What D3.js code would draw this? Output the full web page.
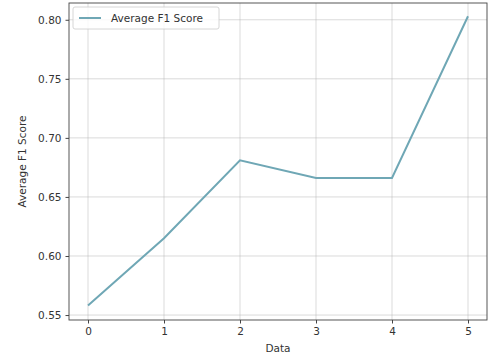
<!DOCTYPE html>
<html><head><meta charset="utf-8">
<script src="https://cdn.jsdelivr.net/npm/d3@7"></script>
<style>body{margin:0;background:#fff}text{font-family:"DejaVu Sans",sans-serif}</style>
</head><body><svg id="c" width="488" height="362"></svg>
<script>
const xValues=[0,1,2,3,4,5];
const f1Scores=[0.558,0.615,0.681,0.666,0.666,0.803];
const yTicks=[0.55,0.60,0.65,0.70,0.75,0.80];
const seriesName="Average F1 Score";
const W=488,H=362;
const m={l:69,r:1,t:3,b:42};
const svg=d3.select("#c");
const x=d3.scaleLinear().domain([-0.25,5.25]).range([m.l,W-m.r]);
const y=d3.scaleLinear().domain([0.5458,0.8142]).range([H-m.b,m.t]);
const g=svg.append("g");
// grid
g.append("g").selectAll("line").data(xValues).join("line")
 .attr("x1",d=>x(d)).attr("x2",d=>x(d)).attr("y1",m.t).attr("y2",H-m.b)
 .attr("stroke","#b0b0b0").attr("stroke-opacity",0.6).attr("stroke-width",0.8);
g.append("g").selectAll("line").data(yTicks).join("line")
 .attr("y1",d=>y(d)).attr("y2",d=>y(d)).attr("x1",m.l).attr("x2",W-m.r)
 .attr("stroke","#b0b0b0").attr("stroke-opacity",0.6).attr("stroke-width",0.8);
// axes
const xa=svg.append("g").attr("transform",`translate(0,${H-m.b})`)
 .call(d3.axisBottom(x).tickValues(xValues).tickFormat(d3.format("d")).tickSize(3.5).tickPadding(4));
const ya=svg.append("g").attr("transform",`translate(${m.l},0)`)
 .call(d3.axisLeft(y).tickValues(yTicks).tickFormat(d3.format(".2f")).tickSize(3.5).tickPadding(4));
[xa,ya].forEach(a=>{a.select(".domain").remove();a.selectAll("text").attr("font-size","10.5px").attr("fill","#333").style("font-family","DejaVu Sans");a.selectAll(".tick line").attr("stroke","#444");});
svg.append("rect").attr("x",m.l).attr("y",m.t).attr("width",W-m.r-m.l).attr("height",H-m.b-m.t)
 .attr("fill","none").attr("stroke","#444").attr("stroke-width",0.9);
// line
svg.append("path").datum(xValues.map((d,i)=>[d,f1Scores[i]]))
 .attr("d",d3.line().x(d=>x(d[0])).y(d=>y(d[1])))
 .attr("fill","none").attr("stroke","#6fa7b5").attr("stroke-width",2);
// labels
svg.append("text").attr("x",(m.l+W-m.r)/2).attr("y",352).attr("text-anchor","middle").attr("font-size","10.5px").attr("fill","#333").text("Data");
svg.append("text").attr("transform",`translate(26,${(m.t+H-m.b)/2}) rotate(-90)`).attr("text-anchor","middle").attr("font-size","10.5px").attr("fill","#333").text("Average F1 Score");
// legend
const lg=svg.append("g");
lg.append("rect").attr("x",73).attr("y",7).attr("width",146).attr("height",22).attr("rx",2)
 .attr("fill","#fff").attr("fill-opacity",0.8).attr("stroke","#ccc").attr("stroke-width",0.8);
lg.append("line").attr("x1",79).attr("x2",101).attr("y1",18).attr("y2",18).attr("stroke","#6fa7b5").attr("stroke-width",2);
lg.append("text").attr("x",111).attr("y",22).attr("font-size","10.5px").attr("fill","#333").text(seriesName);
</script></body></html>
